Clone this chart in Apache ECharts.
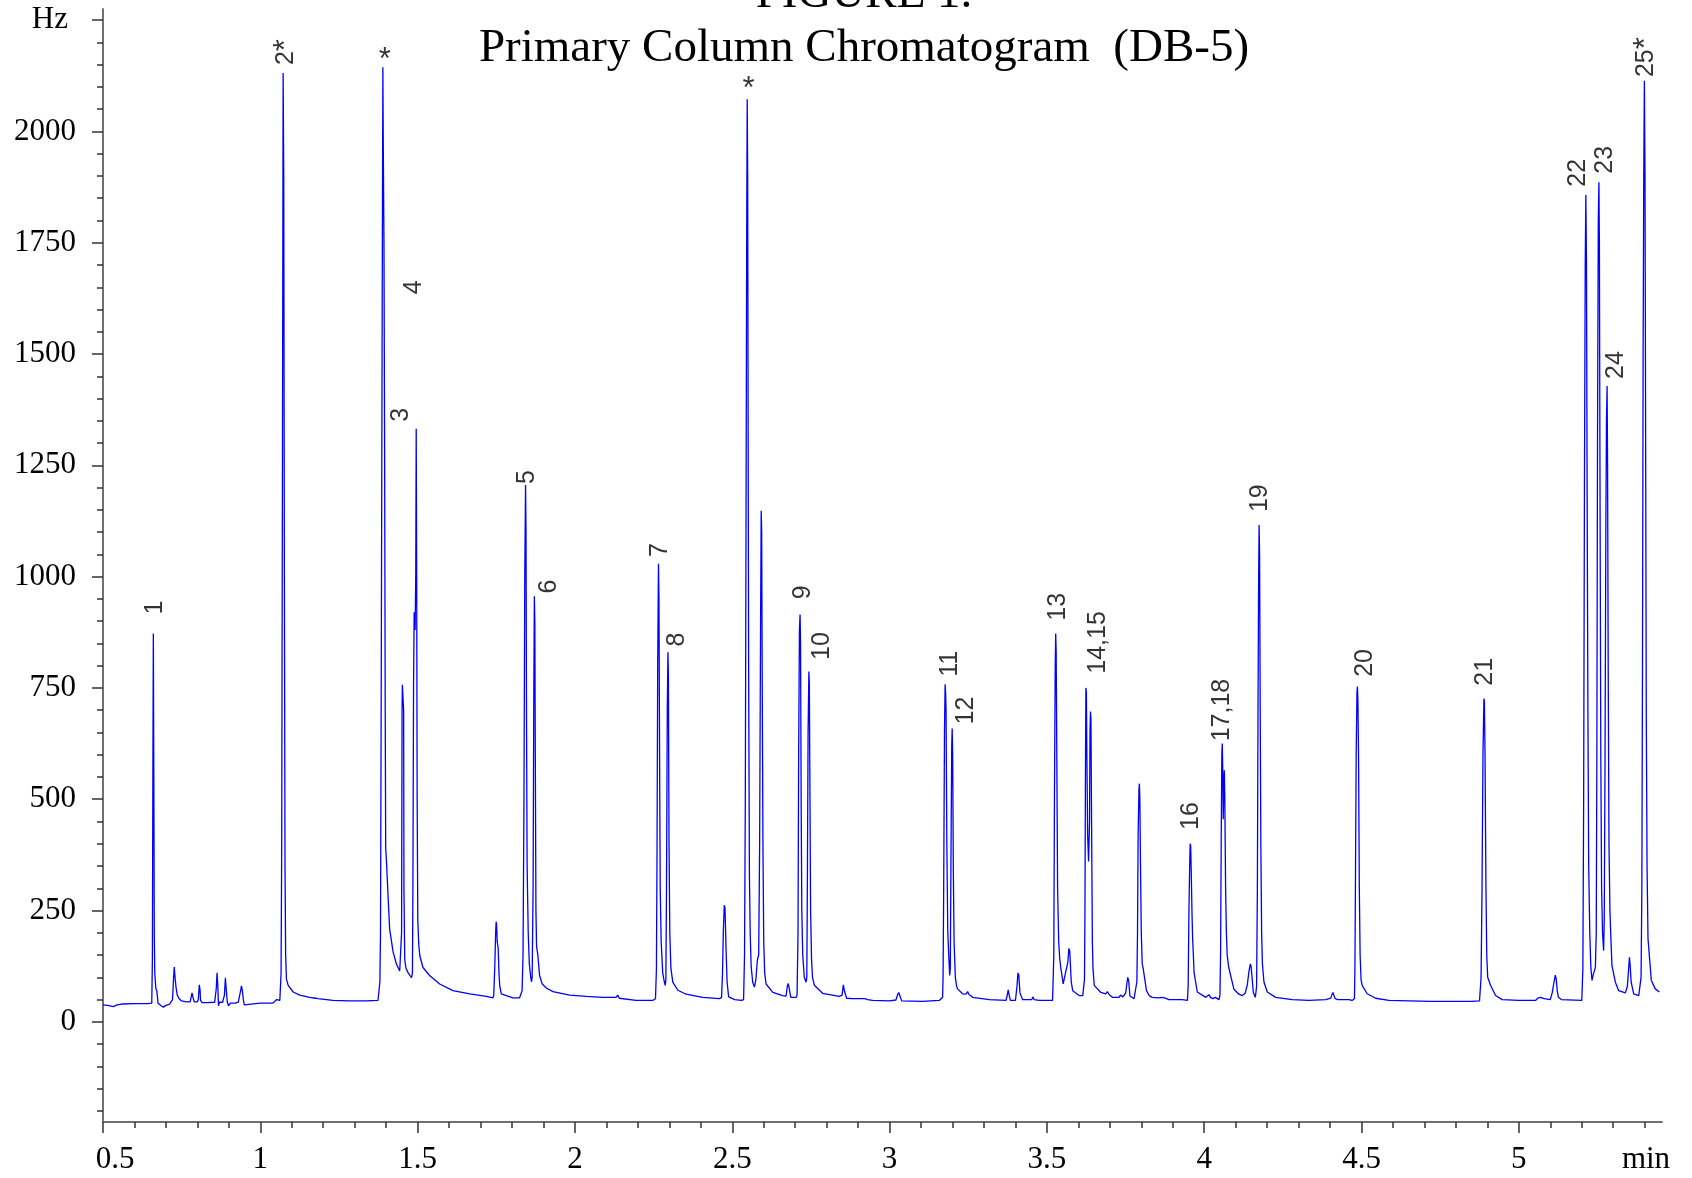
<!doctype html>
<html>
<head>
<meta charset="utf-8">
<title>Primary Column Chromatogram (DB-5)</title>
<script src="https://cdn.jsdelivr.net/npm/echarts@6.0.0/dist/echarts.min.js"></script>
<style>
  html, body { margin: 0; padding: 0; background: #fff; }
  #div_charts { width: 1692px; height: 1178px; }
</style>
</head>
<body>
<div id="div_charts"></div>
<script>
// tick labels
var xTicks = [0.5, 1, 1.5, 2, 2.5, 3, 3.5, 4, 4.5, 5];
var yTicks = [0, 250, 500, 750, 1000, 1250, 1500, 1750, 2000, 2250];

// peak labels: text, retention time (min), height of label foot (Hz)
var peakNames = ['1', '2*', '3', '4', '5', '6', '7', '8', '9', '10', '11', '12', '13', '14,15', '16', '17,18', '19', '20', '21', '22', '23', '24', '25*'];
var peakLabelTime = [0.666, 1.0815, 1.446, 1.490, 1.849, 1.919, 2.270, 2.325, 2.726, 2.784, 3.192, 3.2434, 3.5346, 3.662, 3.9595, 4.0555, 4.179, 4.511, 4.892, 5.189, 5.273, 5.310, 5.405];
var peakLabelHz = [915, 2149, 1348, 1634, 1208, 962, 1044, 843, 949, 813, 775, 668, 901, 782, 431, 630, 1145, 775, 755, 1876, 1905, 1444, 2122];

// unnumbered reference peaks marked with a star
var starTime = [1.3955, 2.552];
var starHz = [2160, 2094];

// detector trace [min, Hz]
var trace = [
  [0.500, 38], [0.515, 37], [0.533, 34], [0.545, 38], [0.560, 40], [0.600, 41], [0.640, 41], [0.655, 42],
  [0.657, 140], [0.6585, 560], [0.660, 872], [0.6615, 560], [0.663, 200], [0.6645, 110], [0.668, 75], [0.671, 70], [0.675, 42], [0.685, 36], [0.692, 33], [0.700, 37], [0.712, 40], [0.718, 44],
  [0.721, 50], [0.724, 95], [0.7265, 123], [0.729, 100], [0.732, 78], [0.736, 60], [0.742, 52], [0.750, 47], [0.765, 45], [0.777, 45],
  [0.780, 55], [0.783, 65], [0.786, 55], [0.790, 45], [0.800, 45],
  [0.803, 50], [0.806, 83], [0.8085, 72], [0.810, 48], [0.815, 43], [0.830, 43], [0.855, 44],
  [0.858, 48], [0.860, 75], [0.8625, 110], [0.865, 80], [0.867, 36], [0.870, 44], [0.875, 41], [0.880, 44], [0.886, 60], [0.889, 99], [0.892, 70], [0.895, 45], [0.899, 36], [0.905, 42], [0.920, 42], [0.930, 44],
  [0.935, 48], [0.938, 72], [0.940, 81], [0.943, 70], [0.946, 50], [0.949, 38], [0.955, 42], [1.000, 42], [1.040, 42],
  [1.045, 44], [1.052, 50], [1.058, 50], [1.062, 48],
  [1.064, 52], [1.066, 110], [1.068, 400], [1.0705, 1300], [1.0725, 2131], [1.0745, 1900], [1.0765, 1000], [1.0785, 350], [1.0805, 150], [1.083, 96], [1.0886, 82], [1.1044, 67], [1.1256, 60], [1.157, 55], [1.175, 53], [1.179, 56], [1.183, 52], [1.231, 48], [1.280, 47], [1.337, 47], [1.374, 48],
  [1.377, 50], [1.380, 90], [1.382, 200], [1.3845, 800], [1.387, 1500], [1.3895, 2144], [1.391, 1950], [1.393, 1750], [1.395, 1300], [1.397, 700], [1.3985, 390], [1.401, 360], [1.406, 283], [1.411, 209], [1.422, 157], [1.4326, 130], [1.443, 114], [1.447, 112],
  [1.449, 200], [1.4505, 700], [1.4515, 757], [1.4545, 755], [1.4555, 700], [1.4565, 300], [1.459, 140], [1.463, 120], [1.470, 110], [1.4805, 99],
  [1.4835, 110], [1.485, 300], [1.487, 750], [1.489, 920], [1.4905, 900], [1.492, 880], [1.494, 1000], [1.4955, 1332], [1.497, 1000], [1.4985, 500], [1.5005, 230], [1.5035, 175], [1.5067, 149], [1.517, 122], [1.538, 104], [1.570, 85], [1.612, 70], [1.6655, 63], [1.7185, 57], [1.7395, 54],
  [1.742, 60], [1.745, 119], [1.748, 200], [1.7495, 225], [1.751, 218], [1.753, 180], [1.756, 165], [1.7585, 110], [1.761, 80], [1.766, 63], [1.782, 59], [1.803, 54], [1.824, 54], [1.829, 58],
  [1.832, 70], [1.835, 150], [1.838, 500], [1.8405, 1000], [1.843, 1206], [1.8445, 1100], [1.846, 700], [1.848, 350], [1.8515, 200], [1.855, 130], [1.8595, 100], [1.862, 90],
  [1.864, 100], [1.867, 300], [1.869, 700], [1.871, 956], [1.8725, 900], [1.874, 600], [1.876, 250], [1.878, 170], [1.882, 150], [1.8876, 104], [1.896, 85], [1.909, 76], [1.930, 68], [1.983, 60], [2.036, 57], [2.089, 55], [2.1305, 55], [2.136, 60], [2.141, 53], [2.194, 48], [2.247, 48],
  [2.256, 52], [2.259, 120], [2.261, 400], [2.263, 800], [2.2655, 1029], [2.267, 950], [2.269, 600], [2.271, 300], [2.274, 180], [2.279, 110], [2.284, 90], [2.287, 82],
  [2.289, 95], [2.291, 300], [2.2935, 700], [2.2955, 830], [2.297, 780], [2.299, 400], [2.3015, 200], [2.305, 120], [2.311, 89], [2.327, 71], [2.3535, 62], [2.406, 55], [2.459, 52],
  [2.466, 55], [2.469, 110], [2.4715, 200], [2.4745, 262], [2.477, 255], [2.480, 170], [2.4835, 90], [2.4885, 56], [2.508, 50], [2.5295, 48],
  [2.536, 50], [2.539, 150], [2.5415, 500], [2.544, 1200], [2.546, 1800], [2.5475, 2072], [2.549, 1900], [2.5505, 1300], [2.552, 800], [2.5545, 330], [2.557, 200], [2.560, 125], [2.565, 89], [2.5705, 78],
  [2.575, 95], [2.580, 140], [2.584, 150], [2.587, 400], [2.590, 900], [2.592, 1148], [2.5935, 1100], [2.595, 800], [2.5975, 400], [2.600, 180], [2.603, 110], [2.6075, 85], [2.629, 66], [2.660, 59], [2.671, 58], [2.675, 80], [2.678, 86], [2.681, 75], [2.686, 55], [2.703, 55],
  [2.706, 60], [2.709, 200], [2.711, 600], [2.7135, 880], [2.7155, 915], [2.717, 850], [2.719, 500], [2.721, 250], [2.724, 150], [2.729, 100], [2.7345, 89],
  [2.737, 100], [2.739, 350], [2.741, 650], [2.7435, 787], [2.745, 760], [2.747, 500], [2.749, 250], [2.752, 140], [2.755, 100], [2.761, 82], [2.787, 64], [2.840, 57], [2.849, 60], [2.853, 83], [2.857, 68], [2.8635, 53], [2.883, 52], [2.922, 52], [2.925, 55], [2.930, 50], [2.946, 48], [2.9995, 47], [3.020, 49], [3.025, 60], [3.029, 66], [3.033, 58], [3.0385, 47], [3.105, 46], [3.158, 48], [3.1686, 55],
  [3.170, 100], [3.172, 300], [3.1745, 650], [3.1765, 758], [3.178, 740], [3.1795, 700], [3.182, 400], [3.185, 200], [3.188, 150], [3.191, 104],
  [3.193, 120], [3.195, 350], [3.1975, 620], [3.199, 659], [3.2005, 600], [3.2025, 350], [3.205, 180], [3.209, 100], [3.213, 80], [3.216, 74], [3.232, 63], [3.243, 62], [3.248, 68], [3.252, 62], [3.264, 55], [3.317, 50], [3.370, 48], [3.3735, 58], [3.377, 72], [3.380, 60], [3.384, 48], [3.400, 48], [3.405, 80], [3.408, 110], [3.4105, 105], [3.4145, 65], [3.4226, 50], [3.452, 50], [3.4555, 56], [3.4595, 50], [3.4755, 48], [3.518, 48],
  [3.520, 50], [3.522, 150], [3.524, 500], [3.5265, 800], [3.528, 872], [3.5295, 830], [3.5315, 600], [3.534, 300], [3.5375, 180], [3.541, 140], [3.5445, 120], [3.5517, 85], [3.558, 82], [3.5666, 134], [3.570, 165], [3.5725, 160], [3.5775, 89], [3.582, 70], [3.6025, 59], [3.614, 59], [3.6195, 96],
  [3.621, 250], [3.6225, 550], [3.624, 750], [3.6255, 740], [3.627, 600], [3.6295, 420], [3.6325, 360], [3.634, 359],
  [3.6355, 450], [3.637, 650], [3.6385, 697], [3.640, 680], [3.642, 450], [3.6445, 180], [3.6465, 120], [3.6505, 82], [3.6715, 66], [3.687, 63], [3.6925, 68], [3.697, 62], [3.708, 55], [3.729, 55], [3.734, 60], [3.738, 64], [3.742, 56], [3.7505, 65], [3.754, 85], [3.757, 100], [3.760, 92], [3.764, 58], [3.777, 52], [3.783, 56],
  [3.786, 90], [3.788, 200], [3.790, 420], [3.7925, 520], [3.794, 535], [3.7955, 500], [3.7975, 350], [3.800, 200], [3.803, 130], [3.806, 120], [3.809, 119], [3.8165, 70], [3.825, 59], [3.835, 55], [3.856, 54], [3.865, 55], [3.8695, 59], [3.874, 54], [3.888, 50], [3.915, 50], [3.9198, 53], [3.930, 50], [3.9467, 48],
  [3.949, 80], [3.9515, 250], [3.954, 360], [3.9555, 400], [3.957, 395], [3.959, 330], [3.961, 250], [3.963, 190], [3.9655, 150], [3.9677, 111], [3.978, 67], [4.005, 55], [4.011, 58], [4.0154, 61], [4.020, 55], [4.0277, 52], [4.035, 55], [4.047, 50], [4.050, 60],
  [4.052, 150], [4.054, 400], [4.056, 600], [4.0575, 625], [4.059, 560], [4.0605, 455], [4.0625, 540], [4.064, 565], [4.0655, 500], [4.068, 300], [4.0705, 200], [4.073, 150], [4.078, 122], [4.0945, 73], [4.110, 62], [4.121, 59], [4.130, 64], [4.1367, 82], [4.142, 112], [4.1465, 130], [4.149, 125], [4.152, 100], [4.1562, 66], [4.1625, 55],
  [4.1665, 80], [4.169, 300], [4.171, 700], [4.173, 1000], [4.1745, 1116], [4.176, 1050], [4.178, 700], [4.180, 400], [4.1825, 200], [4.185, 130], [4.190, 89], [4.2005, 67], [4.227, 55], [4.280, 50], [4.333, 48], [4.386, 50], [4.402, 53], [4.4055, 60], [4.409, 66], [4.412, 60], [4.4165, 52], [4.4245, 50], [4.460, 50], [4.4652, 54], [4.470, 48], [4.4775, 52],
  [4.479, 120], [4.481, 350], [4.483, 600], [4.4855, 740], [4.487, 753], [4.4885, 720], [4.4905, 600], [4.493, 300], [4.4955, 150], [4.4985, 95], [4.502, 82], [4.518, 63], [4.5447, 53], [4.587, 48], [4.650, 47], [4.720, 46], [4.800, 46], [4.850, 46], [4.875, 47],
  [4.880, 100], [4.883, 300], [4.886, 600], [4.889, 726], [4.8905, 720], [4.8925, 600], [4.8955, 300], [4.898, 150], [4.901, 100], [4.910, 82], [4.926, 59], [4.947, 50], [5.000, 48], [5.053, 48], [5.060, 53], [5.069, 55], [5.080, 52], [5.100, 50], [5.106, 65], [5.112, 90], [5.116, 105], [5.119, 95], [5.122, 70], [5.1257, 55], [5.135, 50], [5.200, 48],
  [5.2035, 120], [5.206, 500], [5.2085, 1200], [5.211, 1700], [5.213, 1857], [5.215, 1700], [5.217, 1200], [5.2195, 700], [5.222, 350], [5.2255, 200], [5.229, 120], [5.2327, 93],
  [5.236, 105], [5.2405, 115], [5.2433, 123], [5.246, 200], [5.248, 600], [5.250, 1300], [5.2525, 1800], [5.2545, 1886], [5.256, 1750], [5.258, 1200], [5.2605, 600], [5.263, 300], [5.266, 200], [5.2695, 160],
  [5.2715, 230], [5.274, 600], [5.2765, 1100], [5.2785, 1350], [5.2805, 1428], [5.282, 1250], [5.284, 800], [5.2865, 400], [5.2895, 250], [5.293, 180], [5.296, 126], [5.3068, 89], [5.3174, 70], [5.3386, 65], [5.345, 80], [5.349, 120], [5.3515, 145], [5.354, 125], [5.357, 89], [5.365, 63], [5.381, 59], [5.3865, 62],
  [5.3885, 100], [5.391, 300], [5.393, 800], [5.395, 1500], [5.397, 1900], [5.399, 2114], [5.401, 1900], [5.403, 1300], [5.405, 700], [5.4075, 350], [5.4105, 187], [5.4211, 93], [5.4338, 74], [5.4465, 67]
];

var X_MIN = 0.5, X_MAX = 5.455;
var Y_MIN = -225, Y_MAX = 2275;

// minor tick marks (0.1 min, 50 Hz)
var xMinor = [];
for (var i = 6; i <= 54; i++) { if (i % 5 != 0) xMinor.push(i / 10); }
var yMinor = [];
for (var j = -200; j <= 2250; j += 50) { if (j % 250 != 0) yMinor.push(j); }

var serif = 'Liberation Serif';
var sans = 'Liberation Sans';

// "2*" -> number followed by a larger star
function peakText(name) {
  if (name.charAt(name.length - 1) == '*') {
    return '{n|' + name.slice(0, -1) + '}{s|*}';
  }
  return '{n|' + name + '}';
}

var myChart = echarts.init(document.getElementById('div_charts'));

var option = {
  animation: false,
  backgroundColor: '#ffffff',
  title: {
    text: 'FIGURE 1.\nPrimary Column Chromatogram  (DB-5)',
    left: 864,
    top: -32,
    padding: 0,
    textAlign: 'center',
    textStyle: { fontFamily: serif, fontSize: 47, fontWeight: 'normal', color: '#000', lineHeight: 54 }
  },
  grid: { left: 103, right: 30, top: 9, bottom: 56, outerBoundsMode: 'none' },
  xAxis: [{
    type: 'value', min: X_MIN, max: X_MAX,
    axisLine: { onZero: false, lineStyle: { color: '#707070', width: 2 } },
    axisTick: { customValues: xTicks, length: 11, lineStyle: { color: '#333', width: 1.5 } },
    axisLabel: {
      customValues: xTicks, margin: 22, fontFamily: serif, fontSize: 31, color: '#000',
      formatter: function (v) { return v === 0.5 ? '{first|0.5}' : String(v); },
      rich: { first: { fontFamily: serif, fontSize: 31, color: '#000', padding: [0, 0, 0, 24] } }
    },
    splitLine: { show: false },
    name: 'min', nameLocation: 'end', nameGap: -16,
    nameTextStyle: { fontFamily: serif, fontSize: 31, color: '#000', align: 'center', verticalAlign: 'top', padding: [22, 0, 0, 0] }
  }, {
    type: 'value', min: X_MIN, max: X_MAX, position: 'bottom',
    axisLine: { show: false, onZero: false },
    axisTick: { customValues: xMinor, length: 6, lineStyle: { color: '#333', width: 1.5 } },
    axisLabel: { show: false },
    splitLine: { show: false }
  }],
  yAxis: [{
    type: 'value', min: Y_MIN, max: Y_MAX,
    axisLine: { show: true, onZero: false, lineStyle: { color: '#707070', width: 2 } },
    axisTick: { show: true, customValues: yTicks, length: 11, lineStyle: { color: '#333', width: 1.5 } },
    axisLabel: {
      customValues: yTicks, margin: 27, fontFamily: serif, fontSize: 31, color: '#000',
      formatter: function (v) { return v === 2250 ? '{hz|Hz}' : String(v); },
      rich: { hz: { fontFamily: serif, fontSize: 31, color: '#000', padding: [0, 8, 0, 0] } }
    },
    splitLine: { show: false }
  }, {
    type: 'value', min: Y_MIN, max: Y_MAX, position: 'left',
    axisLine: { show: false, onZero: false },
    axisTick: { show: true, customValues: yMinor, length: 6, lineStyle: { color: '#333', width: 1.5 } },
    axisLabel: { show: false },
    splitLine: { show: false }
  }],
  series: [{
    name: 'signal',
    type: 'line',
    data: trace,
    showSymbol: false,
    symbol: 'none',
    sampling: null,
    lineStyle: { color: '#0000ff', width: 1.3 },
    z: 2
  }, {
    name: 'peaks',
    type: 'scatter',
    silent: true,
    symbolSize: 1,
    itemStyle: { color: 'rgba(0,0,0,0)' },
    data: peakNames.map(function (n, k) { return { name: n, value: [peakLabelTime[k], peakLabelHz[k]] }; }),
    label: {
      show: true, position: 'inside', rotate: 90,
      formatter: function (p) { return peakText(p.name); },
      align: 'left', verticalAlign: 'middle',
      fontFamily: sans, fontSize: 25, color: '#000',
      rich: {
        n: { fontFamily: sans, fontSize: 25, color: '#000' },
        s: { fontFamily: sans, fontSize: 31, color: '#000' }
      }
    },
    z: 3
  }, {
    name: 'stars',
    type: 'scatter',
    silent: true,
    symbolSize: 1,
    itemStyle: { color: 'rgba(0,0,0,0)' },
    data: starTime.map(function (t, k) { return { name: '*', value: [t, starHz[k]] }; }),
    label: {
      show: true, position: 'inside', formatter: '{b}',
      align: 'center', verticalAlign: 'middle',
      fontFamily: sans, fontSize: 31, color: '#000'
    },
    z: 3
  }]
};

myChart.setOption(option);
</script>
</body>
</html>
